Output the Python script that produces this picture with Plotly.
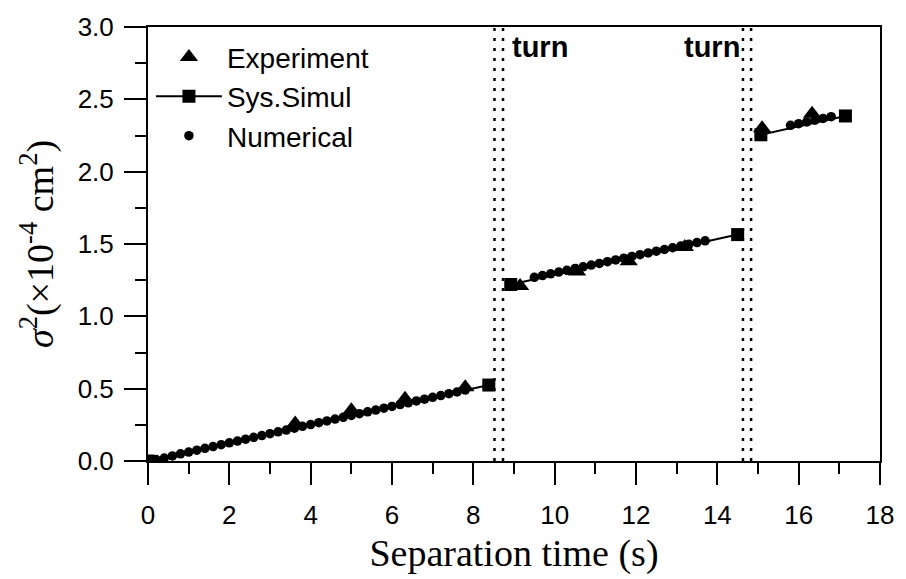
import plotly.graph_objects as go

# Experiment (triangles)
exp_t = [3.62, 5.0, 6.32, 7.8, 9.15, 10.55, 11.82, 13.2, 15.1, 16.33]
exp_v = [0.26, 0.35, 0.43, 0.51, 1.21, 1.31, 1.38, 1.48, 2.30, 2.40]

# Sys.Simul (squares joined by lines, one segment per stage)
sim_t = [0.0, 8.38, None, 8.92, 14.5, None, 15.07, 17.15]
sim_v = [0.0, 0.525, None, 1.22, 1.565, None, 2.255, 2.385]

# Numerical (small dots)
num_t = [0.0, 0.2, 0.4, 0.6, 0.8, 1.0, 1.2, 1.4, 1.6, 1.8, 2.0, 2.2, 2.4, 2.6,
         2.8, 3.0, 3.2, 3.4, 3.6, 3.8, 4.0, 4.2, 4.4, 4.6, 4.8, 5.0, 5.2, 5.4,
         5.6, 5.8, 6.0, 6.2, 6.4, 6.6, 6.8, 7.0, 7.2, 7.4, 7.6, 7.8,
         9.5, 9.7, 9.9, 10.1, 10.3, 10.5, 10.7, 10.9, 11.1, 11.3, 11.5, 11.7,
         11.9, 12.1, 12.3, 12.5, 12.7, 12.9, 13.1, 13.3, 13.5, 13.7,
         15.8, 16.0, 16.2, 16.4, 16.6, 16.8]
num_v = [0.0, 0.01, 0.02, 0.035, 0.05, 0.062, 0.075, 0.088, 0.10, 0.113, 0.126,
         0.138, 0.151, 0.164, 0.176, 0.189, 0.202, 0.214, 0.227, 0.240, 0.252,
         0.265, 0.277, 0.290, 0.302, 0.315, 0.327, 0.340, 0.352, 0.365, 0.377,
         0.390, 0.402, 0.415, 0.427, 0.440, 0.452, 0.465, 0.477, 0.490,
         1.270, 1.282, 1.294, 1.306, 1.318, 1.330, 1.342, 1.354, 1.366, 1.378,
         1.390, 1.402, 1.414, 1.426, 1.438, 1.450, 1.462, 1.474, 1.486, 1.498,
         1.510, 1.522,
         2.320, 2.332, 2.344, 2.356, 2.368, 2.380]

turn_lines = [8.52, 8.73, 14.63, 14.83]

x_ticks = [0, 2, 4, 6, 8, 10, 12, 14, 16, 18]
y_ticks = [0.0, 0.5, 1.0, 1.5, 2.0, 2.5, 3.0]
y_tick_text = ["0.0", "0.5", "1.0", "1.5", "2.0", "2.5", "3.0"]

fig = go.Figure()
fig.add_trace(go.Scatter(
    x=exp_t, y=exp_v, mode="markers", name="Experiment",
    marker=dict(symbol="triangle-up", size=16, color="black")))
fig.add_trace(go.Scatter(
    x=sim_t, y=sim_v, mode="lines+markers", name="Sys.Simul",
    line=dict(color="black", width=2),
    marker=dict(symbol="square", size=13, color="black")))
fig.add_trace(go.Scatter(
    x=num_t, y=num_v, mode="markers", name="Numerical",
    marker=dict(symbol="circle", size=9.5, color="black")))

shapes = []
for xv in turn_lines:
    shapes.append(dict(type="line", xref="x", yref="paper", x0=xv, x1=xv,
                       y0=0, y1=1, line=dict(color="black", width=2.5, dash="3px,7px")))

fig.update_layout(
    width=906, height=579,
    margin=dict(l=148, r=21, t=19, b=116),
    paper_bgcolor="white", plot_bgcolor="white",
    font=dict(family="Liberation Sans, Arial", size=26, color="black"),
    shapes=shapes,
    showlegend=True,
    legend=dict(x=0.004, y=0.988, xanchor="left", yanchor="top",
                bgcolor="rgba(0,0,0,0)", font=dict(size=28),
                itemwidth=66, tracegroupgap=0),
    annotations=[
        dict(x=8.9, y=2.86, xref="x", yref="y", text="<b>turn</b>",
             showarrow=False, xanchor="left", font=dict(size=29)),
        dict(x=14.6, y=2.86, xref="x", yref="y", text="<b>turn</b>",
             showarrow=False, xanchor="right", font=dict(size=29)),
    ],
)

fig.update_xaxes(
    range=[0, 18], tickvals=x_ticks, ticks="outside", ticklen=22, tickwidth=2,
    tickcolor="black", ticklabelstandoff=8,
    showline=True, linewidth=2, linecolor="black", mirror=True,
    showgrid=False, zeroline=False,
    minor=dict(ticks="outside", ticklen=11, tickwidth=2, dtick=1, tickcolor="black"),
    title=dict(text="Separation time (s)",
               font=dict(family="Liberation Serif, Times New Roman", size=38),
               standoff=10),
    tickfont=dict(size=26),
)
fig.update_yaxes(
    range=[0, 3.0], tickvals=y_ticks, ticktext=y_tick_text, ticks="outside",
    ticklen=22, tickwidth=2, tickcolor="black", ticklabelstandoff=5,
    showline=True, linewidth=2, linecolor="black", mirror=True,
    showgrid=False, zeroline=False,
    minor=dict(ticks="outside", ticklen=11, tickwidth=2, dtick=0.25, tickcolor="black"),
    title=dict(text="<i>σ</i><sup>2</sup>(×10<sup>-4</sup> cm<sup>2</sup>)",
               font=dict(family="Liberation Serif, Times New Roman", size=38),
               standoff=12),
    tickfont=dict(size=26),
)

fig.write_html("out.html")
